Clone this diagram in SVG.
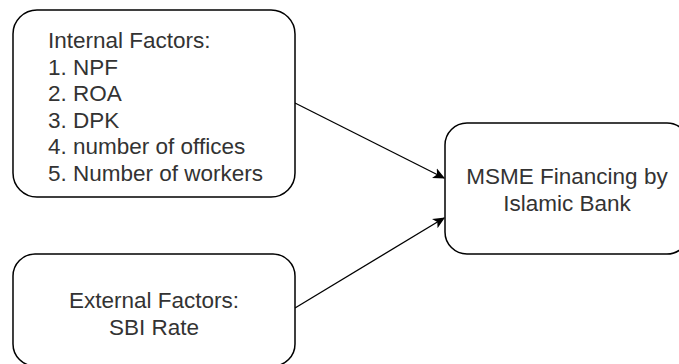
<svg xmlns="http://www.w3.org/2000/svg" width="679" height="364" viewBox="0 0 679 364">
<defs>
<style>
.box{fill:#ffffff;stroke:#000000;stroke-width:1.5}
.t{font-family:"Liberation Sans",Arial,sans-serif;font-size:22.5px;fill:#333333}
.edge{fill:none;stroke:#000000;stroke-width:1.3}
</style>
<marker id="arr" viewBox="0 0 10 10" refX="9" refY="5" markerWidth="12" markerHeight="12" markerUnits="userSpaceOnUse" orient="auto">
<path d="M0,0.5 L10,5 L0,9.5 L2.5,5 Z" fill="#000000"/>
</marker>
</defs>
<rect width="679" height="364" fill="#ffffff"/>
<g id="edges">
<line class="edge" x1="295" y1="103" x2="444" y2="178" marker-end="url(#arr)"/>
<line class="edge" x1="295" y1="308" x2="444" y2="218" marker-end="url(#arr)"/>
</g>
<g id="internal">
<rect class="box" x="13" y="10" width="282" height="187" rx="24" ry="24"/>
<text class="t" x="48" y="48">Internal Factors:</text>
<text class="t" x="48" y="75">1. NPF</text>
<text class="t" x="48" y="101">2. ROA</text>
<text class="t" x="48" y="128">3. DPK</text>
<text class="t" x="48" y="154">4. number of offices</text>
<text class="t" x="48" y="181">5. Number of workers</text>
</g>
<g id="external">
<rect class="box" x="13" y="254" width="282" height="112" rx="22" ry="22"/>
<text class="t" x="154" y="308" text-anchor="middle">External Factors:</text>
<text class="t" x="154" y="335" text-anchor="middle">SBI Rate</text>
</g>
<g id="msme">
<rect class="box" x="445" y="123" width="244" height="131" rx="22" ry="22"/>
<text class="t" x="567" y="184" text-anchor="middle">MSME Financing by</text>
<text class="t" x="567" y="211" text-anchor="middle">Islamic Bank</text>
</g>
</svg>
